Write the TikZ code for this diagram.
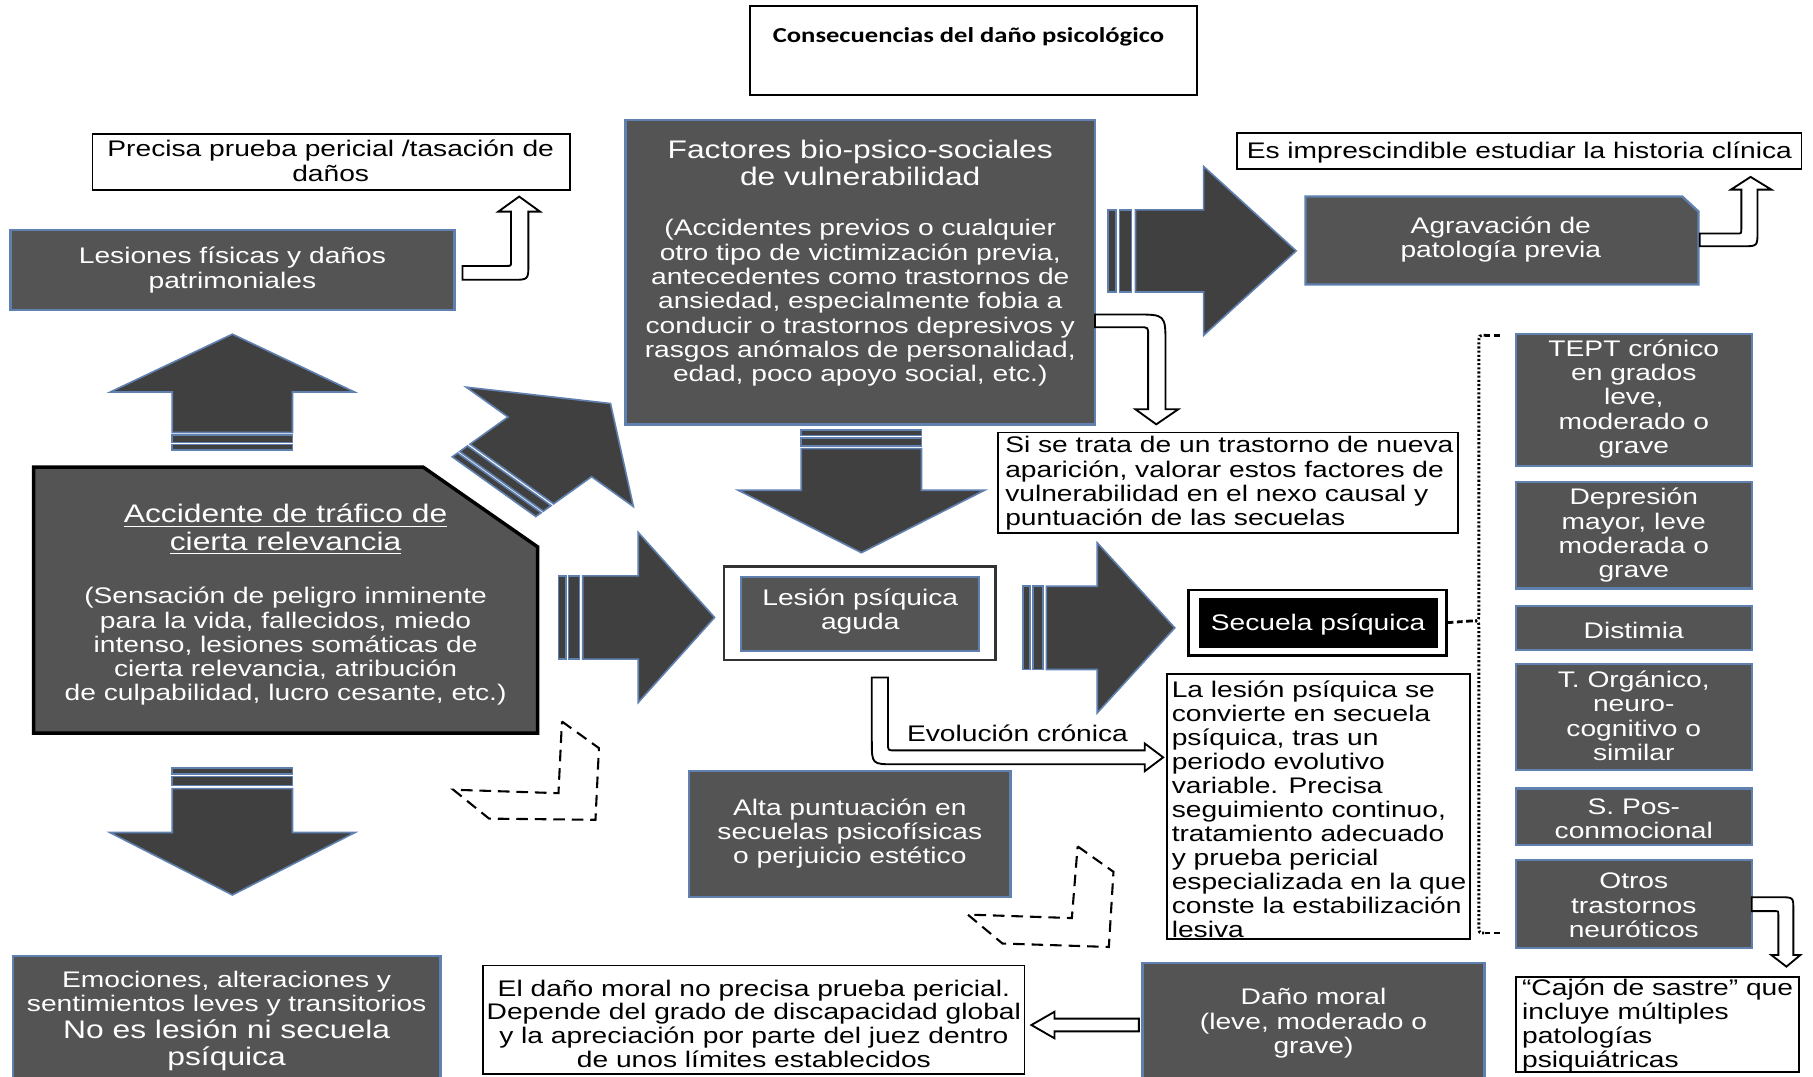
\documentclass[tikz,border=0pt]{standalone}
\usepackage{fontspec}
\setmainfont{Liberation Sans}[FakeStretch=1.25]
\newfontfamily\titlefont{Carlito}[FakeStretch=1.25]
\usetikzlibrary{fit}
\definecolor{boxgray}{RGB}{84,84,84}
\definecolor{arrgray}{RGB}{64,64,64}
\definecolor{edgeblue}{RGB}{96,128,176}
\newcommand\normtext{\fontsize{9.75}{10.5}\selectfont}
\newcommand\bigtext{\fontsize{11}{12}\selectfont}
\tikzset{
  gbox/.style={fill=boxgray, draw=edgeblue, line width=1pt, inner sep=0pt},
  wbox/.style={fill=white, draw=black, line width=0.8pt, inner sep=0pt},
  wtext/.style={text=white, font=\normtext, align=center, inner sep=0pt},
  btext/.style={text=black, font=\normtext, align=center, inner sep=0pt},
  ltext/.style={text=black, font=\normtext, align=left, inner sep=0pt, anchor=west},
  oarrow/.style={fill=white, draw=black, line width=0.8pt, line join=miter},
  darrow/.style={draw=black, line width=0.9pt, dash pattern=on 5pt off 3pt},
  barfill/.style={fill=arrgray, draw=edgeblue, line width=0.7pt},
  dotline/.style={draw=black, line width=1.2pt, dash pattern=on 0.9pt off 0.9pt},
  tickline/.style={draw=black, line width=1.2pt, dash pattern=on 2.5pt off 1.5pt},
}
% #1,#2 tail centre; #3 extra transform; #4 stripes; #5 shaft; #6 head; #7 shaft width; #8 head width
\newcommand\blockarrow[8]{%
  \begin{scope}[shift={(#1,#2)}, #3]
    \path[barfill] (0,{-#7/2}) rectangle ({0.3*#4},{#7/2});
    \path[barfill] ({0.42*#4},{-#7/2}) rectangle ({0.86*#4},{#7/2});
    \path[barfill] (#4,{-#7/2}) -- ({#4+#5},{-#7/2}) -- ({#4+#5},{-#8/2})
      -- ({#4+#5+#6},0) -- ({#4+#5},{#8/2}) -- ({#4+#5},{#7/2}) -- (#4,{#7/2}) -- cycle;
  \end{scope}}
\begin{document}
\begin{tikzpicture}[x=0.5pt, y=-0.5pt]
\useasboundingbox (0,0) rectangle (1568,931);
\fill[white] (0,0) rectangle (1568,931);

% title
\node[wbox, fit={(649,5)(1035,82)}] (title) {};
\node[anchor=west, inner sep=0pt, font=\titlefont\bfseries\fontsize{9.2}{11}\selectfont] (titletext) at (668,32) {Consecuencias del daño psicológico};

% top left
\node[wbox, fit={(80,116)(493,164)}] (precisa) {};
\node[btext] (precisatxt) at (286,139) {Precisa prueba pericial /tasación de\\daños};
\node[gbox, fit={(9,199)(393,268)}] (lesiones) {};
\node[wtext] (lesionestxt) at (201,233.5) {Lesiones físicas y daños\\patrimoniales};

% factores
\node[gbox, fit={(541,104)(947,367)}] (factores) {};
\node[wtext, font=\bigtext] (factorestit) at (744,141) {Factores bio-psico-sociales\\de vulnerabilidad};
\node[wtext] (factorestxt) at (744,262) {(Accidentes previos o cualquier\\otro tipo de victimización previa,\\antecedentes como trastornos de\\ansiedad, especialmente fobia a\\conducir o trastornos depresivos y\\rasgos anómalos de personalidad,\\edad, poco apoyo social, etc.)};

% top right
\node[wbox, fit={(1070,115)(1558,146)}] (historia) {};
\node[btext] (historiatxt) at (1314,132) {Es imprescindible estudiar la historia clínica};
\fill[boxgray, draw=edgeblue, line width=1pt] (1129,170) -- (1455,170) -- (1469,183) -- (1469,246) -- (1129,246) -- cycle;
\node[wtext] (agravacion) at (1298,207) {Agravación de\\patología previa};

\node[wbox, fit={(863,374)(1261,461)}] (sitrata) {};
\node[ltext] (sitratatxt) at (869,418) {Si se trata de un trastorno de nueva\\aparición, valorar estos factores de\\vulnerabilidad en el nexo causal y\\puntuación de las secuelas};

% accidente
\fill[boxgray, draw=black, line width=1.5pt] (29,404) -- (366,404) -- (465,473) -- (465,634) -- (29,634) -- cycle;
\node[wtext, font=\bigtext] (accidentetit) at (247,458) {\underline{Accidente de tráfico de}\\\underline{cierta relevancia}};
\node[wtext] (accidentetxt) at (247,559) {(Sensación de peligro inminente\\para la vida, fallecidos, miedo\\intenso, lesiones somáticas de\\cierta relevancia, atribución\\de culpabilidad, lucro cesante, etc.)};

% lesion aguda
\node[wbox, draw=black!80, line width=1pt, fit={(626,490)(861,571)}] (agudaout) {};
\node[gbox, line width=0.8pt, fit={(641,499)(847,563)}] (aguda) {};
\node[wtext] (agudatxt) at (744,529) {Lesión psíquica\\aguda};

% secuela
\node[wbox, line width=1pt, fit={(1028,510)(1251,567)}] (secuelaout) {};
\node[fill=black, inner sep=0pt, fit={(1037,517)(1244,560)}] (secuela) {};
\node[wtext] (secuelatxt) at (1140,540) {Secuela psíquica};

\node[wbox, fit={(1009,583)(1271,812)}] (convierte) {};
\node[ltext, font=\fontsize{9.75}{10.4}\selectfont] (conviertetxt) at (1013,700) {La lesión psíquica se\\convierte en secuela\\psíquica, tras un\\periodo evolutivo\\variable. Precisa\\seguimiento continuo,\\tratamiento adecuado\\y prueba pericial\\especializada en la que\\conste la estabilización\\lesiva};

% right column
\node[gbox, fit={(1311,289)(1515,403)}] (tept) {};
\node[wtext] (tepttxt) at (1413,345) {TEPT crónico\\en grados\\leve,\\moderado o\\grave};
\node[gbox, fit={(1311,417)(1515,509)}] (depresion) {};
\node[wtext] (depresiontxt) at (1413,463) {Depresión\\mayor, leve\\moderada o\\grave};
\node[gbox, fit={(1311,524)(1515,562)}] (distimia) {};
\node[wtext] (distimiatxt) at (1413,545) {Distimia};
\node[gbox, fit={(1311,574)(1515,666)}] (organico) {};
\node[wtext] (organicotxt) at (1413,619) {T. Orgánico,\\neuro-\\cognitivo o\\similar};
\node[gbox, fit={(1311,682)(1515,731)}] (pos) {};
\node[wtext] (postxt) at (1413,708) {S. Pos-\\conmocional};
\node[gbox, fit={(1311,744)(1515,820)}] (otros) {};
\node[wtext] (otrostxt) at (1413,783) {Otros\\trastornos\\neuróticos};
\node[wbox, fit={(1311,845)(1556,927)}] (cajon) {};
\node[ltext] (cajontxt) at (1316,887) {“Cajón de sastre” que\\incluye múltiples\\patologías\\psiquiátricas};

% bottom
\node[gbox, fit={(596,667)(874,776)}] (alta) {};
\node[wtext] (altatxt) at (735,721) {Alta puntuación en\\secuelas psicofísicas\\o perjuicio estético};
\node[gbox, fit={(11,827)(381,940)}] (emociones) {};
\node[wtext] (emocionestxt) at (196,859.5) {Emociones, alteraciones y\\sentimientos leves y transitorios};
\node[wtext, font=\bigtext] (emocionestxt2) at (196,904) {No es lesión ni secuela\\psíquica};
\node[wbox, fit={(418,835)(886,929)}] (moralnota) {};
\node[btext, font=\fontsize{9.75}{10.35}\selectfont] (moralnotatxt) at (652,885.5) {El daño moral no precisa prueba pericial.\\Depende del grado de discapacidad global\\y la apreciación por parte del juez dentro\\de unos límites establecidos};
\node[gbox, fit={(988,833)(1284,940)}] (moral) {};
\node[wtext] (moraltxt) at (1136,885) {Daño moral\\(leve, moderado o\\grave)};

% block arrows
\blockarrow{201}{389}{rotate=90}{15}{35}{50}{104}{211}
\blockarrow{201}{664}{rotate=-90}{18}{38}{54}{104}{212}
\blockarrow{427.3}{420.9}{xscale=1.4, rotate=45}{15.5}{33.2}{53}{73}{146}
\blockarrow{483}{534}{rotate=0}{21}{48}{66}{72}{147}
\blockarrow{958}{217}{rotate=0}{24}{59}{80}{71}{146}
\blockarrow{745}{372}{rotate=-90}{16}{36}{54}{104}{213}
\blockarrow{885}{543}{rotate=0}{20}{44}{67}{72}{147}

% outline bent arrows
\draw[oarrow] (400,230) -- (438,230) .. controls (442,230) .. (442,226) -- (442,183) -- (431,183) -- (449,170) -- (467,183) -- (457,183) -- (457,228) .. controls (457,242) .. (443,242) -- (400,242) -- cycle;
\draw[oarrow] (1470,202) -- (1502,202) .. controls (1506,202) .. (1506,198) -- (1506,164) -- (1497,164) -- (1514,153) -- (1532,164) -- (1520,164) -- (1520,200) .. controls (1520,213) .. (1507,213) -- (1470,213) -- cycle;
\draw[oarrow] (947,272) -- (982,272) .. controls (1008,272) .. (1008,298) -- (1008,354) -- (1019,354) -- (1000,367) -- (982,354) -- (993,354) -- (993,290) .. controls (993,283) .. (986,283) -- (947,283) -- cycle;
\draw[oarrow] (1515,776) -- (1540,776) .. controls (1551,776) .. (1551,787) -- (1551,826) -- (1557,826) -- (1545,836) -- (1532,826) -- (1538,826) -- (1538,791) .. controls (1538,788) .. (1535,788) -- (1515,788) -- cycle;
\draw[oarrow] (754,586) -- (768,586) -- (768,643) .. controls (768,649) .. (774,649) -- (990,649) -- (990,643) -- (1006,655) -- (990,667) -- (990,661) -- (774,661) .. controls (754,661) .. (754,641) -- cycle;
\draw[oarrow] (985,881) -- (912,881) -- (912,875) -- (892,886.5) -- (912,898) -- (912,892) -- (985,892) -- cycle;
\node[btext] (evolucion) at (880,634) {Evolución crónica};

% dashed L shapes
\draw[darrow] (486,624) -- (518,647) -- (515,709) -- (423,708) -- (392,683) -- (483,686) -- cycle;
\draw[darrow] (932,732) -- (963,754) -- (959,819) -- (867,816) -- (837,791) -- (927,794) -- cycle;

% dotted brace
\coordinate (bracetip) at (1273,537);
\draw[dotline] (1285,290) .. controls (1279,290) .. (1279,296) -- (1279,531) .. controls (1279,537) .. (bracetip) .. controls (1279,537) .. (1279,543) -- (1279,801) .. controls (1279,807) .. (1285,807);
\draw[tickline] (1284,290) -- (1300,290);
\draw[tickline] (1284,807) -- (1300,807);
\draw[tickline] (secuelaout.east) -- (bracetip);
\end{tikzpicture}
\end{document}
